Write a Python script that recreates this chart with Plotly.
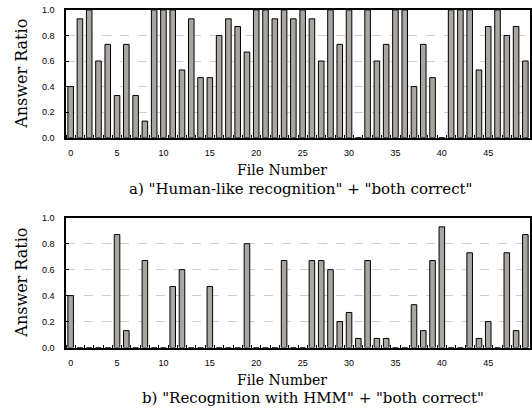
import plotly.graph_objects as go

file_numbers = list(range(50))
human_like = [0.4, 0.93, 1.0, 0.6, 0.73, 0.33, 0.73, 0.33, 0.13, 1.0,
              1.0, 1.0, 0.53, 0.93, 0.47, 0.47, 0.8, 0.93, 0.87, 0.67,
              1.0, 1.0, 0.93, 1.0, 0.93, 1.0, 0.93, 0.6, 1.0, 0.73,
              1.0, 0.0, 1.0, 0.6, 0.73, 1.0, 1.0, 0.4, 0.73, 0.47,
              0.0, 1.0, 1.0, 1.0, 0.53, 0.87, 1.0, 0.8, 0.87, 0.6]
hmm = [0.4, 0, 0, 0, 0, 0.87, 0.13, 0, 0.67, 0,
       0, 0.47, 0.6, 0, 0, 0.47, 0, 0, 0, 0.8,
       0, 0, 0, 0.67, 0, 0, 0.67, 0.67, 0.6, 0.2,
       0.27, 0.07, 0.67, 0.07, 0.07, 0, 0, 0.33, 0.13, 0.67,
       0.93, 0, 0, 0.73, 0.07, 0.2, 0, 0.73, 0.13, 0.87]
x_ticks = [0, 5, 10, 15, 20, 25, 30, 35, 40, 45]
y_ticks = [0.0, 0.2, 0.4, 0.6, 0.8, 1.0]
y_title = "Answer Ratio"
x_title = "File Number"
caption_a = 'a) "Human-like recognition" + "both correct"'
caption_b = 'b) "Recognition with HMM" + "both correct"'

W, H = 532, 414
SERIF = "DejaVu Serif"
SANS = "Liberation Sans, Arial"


def px_x(x):
    return x / W


def px_y(y):
    return 1 - y / H


fig = go.Figure()
bar_style = dict(marker=dict(color="#a9a6a2", line=dict(color="black", width=1)),
                 width=0.6, showlegend=False, hoverinfo="x+y")
fig.add_trace(go.Bar(x=file_numbers, y=human_like, xaxis="x", yaxis="y", **bar_style))
fig.add_trace(go.Bar(x=file_numbers, y=hmm, xaxis="x2", yaxis="y2", **bar_style))

LEFT, RIGHT = 66, 530


def xax(anchor):
    return dict(anchor=anchor, domain=[px_x(LEFT), px_x(RIGHT)], range=[-0.5, 49.5],
                tickmode="array", tickvals=x_ticks, ticks="", showgrid=False,
                showline=True, linecolor="black", linewidth=1.5, mirror=True,
                zeroline=False, ticklabelstandoff=6,
                tickfont=dict(family=SANS, size=9, color="black"),
                minor=dict(ticks="inside", tickmode="linear", tick0=0.5, dtick=1,
                           ticklen=3, tickcolor="black", tickwidth=1, showgrid=False))


def yax(anchor, top, bottom):
    return dict(anchor=anchor, domain=[px_y(bottom), px_y(top)], range=[0, 1],
                tickmode="array", tickvals=y_ticks, tickformat=".1f",
                ticks="inside", ticklen=3, tickcolor="black",
                showgrid=True, gridcolor="#cfcfcf", griddash="dash", gridwidth=1,
                showline=True, linecolor="black", linewidth=1.5, mirror=True,
                zeroline=False, ticklabelstandoff=8,
                tickfont=dict(family=SANS, size=9, color="black"))


TOP1, BOT1 = 5, 136
TOP2, BOT2 = 218, 351

fig.update_layout(
    width=W, height=H,
    margin=dict(l=0, r=0, t=0, b=0),
    paper_bgcolor="white", plot_bgcolor="white",
    xaxis=xax("y"), yaxis=yax("x", TOP1, BOT1),
    xaxis2=xax("y2"), yaxis2=yax("x2", TOP2, BOT2),
)


def ann(text, x, y, size, angle=0):
    fig.add_annotation(text=text, x=px_x(x), y=px_y(y), xref="paper", yref="paper",
                       showarrow=False, textangle=angle, xanchor="center", yanchor="middle",
                       font=dict(family=SERIF, size=size, color="black"))


ann(y_title, 22, (TOP1 + BOT1) / 2, 16, -90)
ann(y_title, 22, (TOP2 + BOT2) / 2, 16, -90)
ann(x_title, 282, 169.5, 14)
ann(caption_a, 300, 188.5, 15)
ann(x_title, 282, 384, 14)
ann(caption_b, 313, 403, 15)

fig.write_html(
    "out.html",
    config={"displayModeBar": False},
    post_script="document.body.style.margin='0';document.body.style.overflow='hidden';",
)
